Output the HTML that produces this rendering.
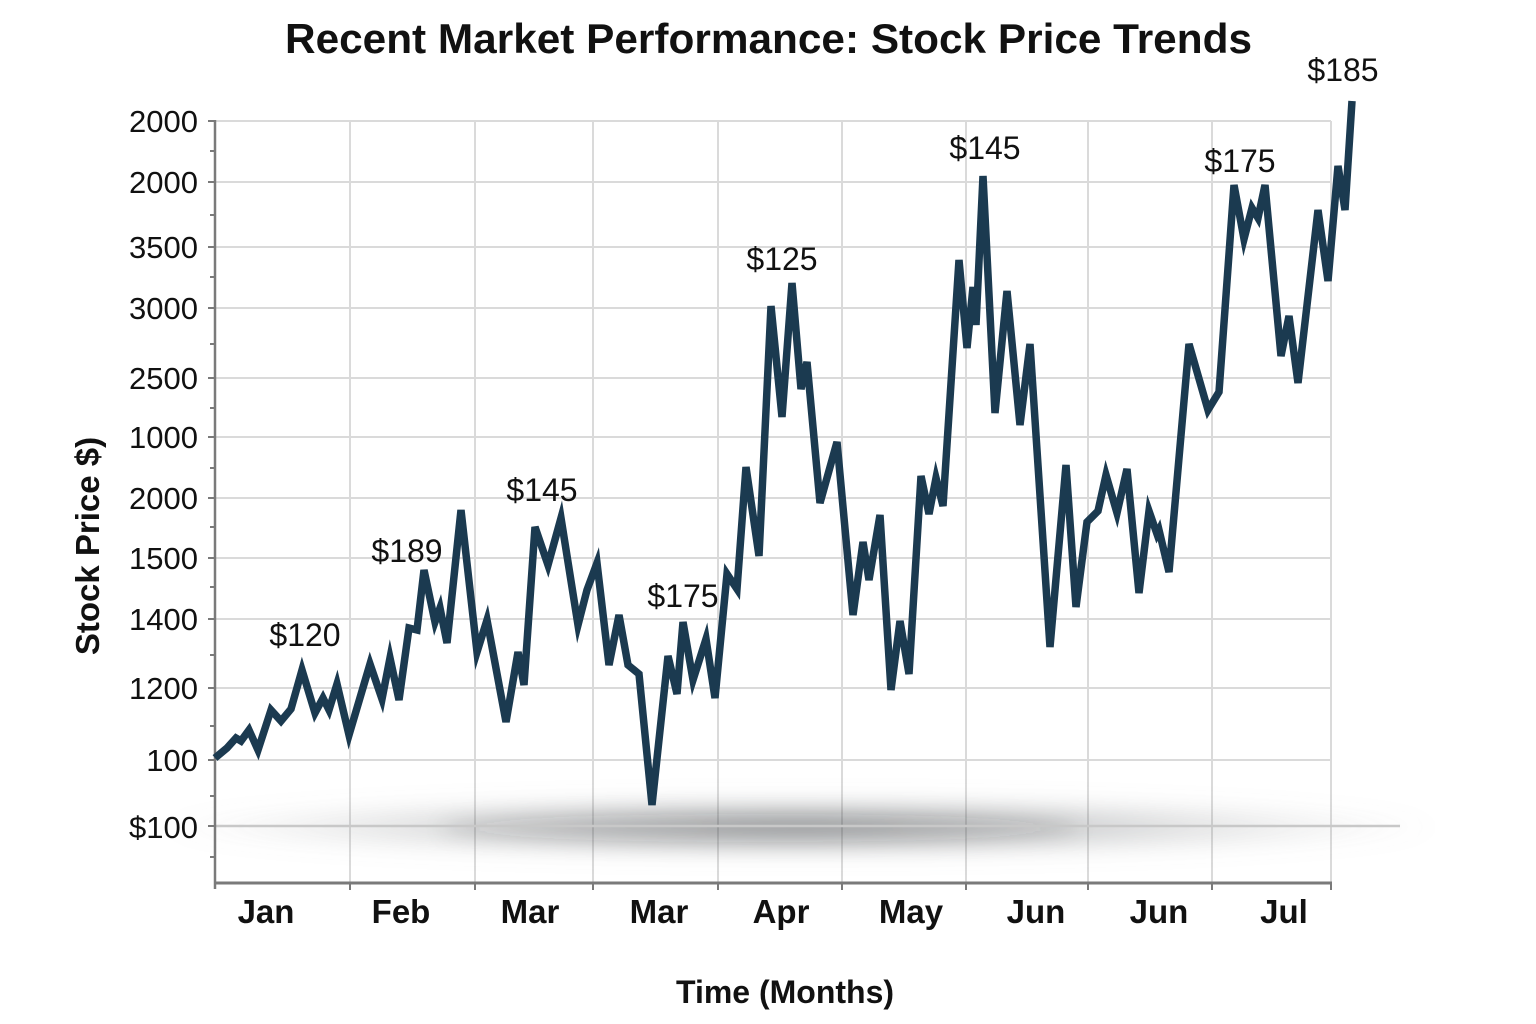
<!DOCTYPE html>
<html>
<head>
<meta charset="utf-8">
<style>
  html, body { margin: 0; padding: 0; background: #ffffff; }
  svg { display: block; }
  text { font-family: "Liberation Sans", Arial, Helvetica, sans-serif; fill: #111; }
</style>
</head>
<body>
<svg width="1536" height="1024" viewBox="0 0 1536 1024" xmlns="http://www.w3.org/2000/svg">
  <defs>
    <radialGradient id="shadowGrad" cx="0.5" cy="0.5" r="0.5">
      <stop offset="0" stop-color="#3a3f44" stop-opacity="0.5"/>
      <stop offset="0.5" stop-color="#6a6e72" stop-opacity="0.28"/>
      <stop offset="1" stop-color="#9a9a9a" stop-opacity="0"/>
    </radialGradient>
    <filter id="blur" x="-20%" y="-200%" width="140%" height="500%">
      <feGaussianBlur stdDeviation="10"/>
    </filter>
  </defs>

  <rect x="0" y="0" width="1536" height="1024" fill="#ffffff"/>

  <!-- Title -->
  <text x="285" y="53" font-size="42" font-weight="bold" textLength="967" lengthAdjust="spacingAndGlyphs">Recent Market Performance: Stock Price Trends</text>

  <!-- Horizontal grid -->
  <g stroke="#dadada" stroke-width="2">
    <line x1="215" y1="121" x2="1331" y2="121"/>
    <line x1="215" y1="182" x2="1331" y2="182"/>
    <line x1="215" y1="247" x2="1331" y2="247"/>
    <line x1="215" y1="308" x2="1331" y2="308"/>
    <line x1="215" y1="378" x2="1331" y2="378"/>
    <line x1="215" y1="437" x2="1331" y2="437"/>
    <line x1="215" y1="498" x2="1331" y2="498"/>
    <line x1="215" y1="558" x2="1331" y2="558"/>
    <line x1="215" y1="619" x2="1331" y2="619"/>
    <line x1="215" y1="688" x2="1331" y2="688"/>
    <line x1="215" y1="760" x2="1331" y2="760"/>
  </g>
  <!-- Vertical grid -->
  <g stroke="#dadada" stroke-width="2">
    <line x1="350" y1="121" x2="350" y2="883"/>
    <line x1="475" y1="121" x2="475" y2="883"/>
    <line x1="593" y1="121" x2="593" y2="883"/>
    <line x1="718" y1="121" x2="718" y2="883"/>
    <line x1="842" y1="121" x2="842" y2="883"/>
    <line x1="966" y1="121" x2="966" y2="883"/>
    <line x1="1088" y1="121" x2="1088" y2="883"/>
    <line x1="1212" y1="121" x2="1212" y2="883"/>
    <line x1="1331" y1="121" x2="1331" y2="883"/>
  </g>

  <!-- shadow band -->
  <ellipse cx="800" cy="827" rx="640" ry="32" fill="url(#shadowGrad)" filter="url(#blur)"/>
  <ellipse cx="760" cy="828" rx="320" ry="14" fill="#2f3438" fill-opacity="0.15" filter="url(#blur)"/>
  <line x1="215" y1="826" x2="1400" y2="826" stroke="#c8c8c8" stroke-width="2.5"/>

  <!-- Axes -->
  <line x1="215" y1="120" x2="215" y2="889" stroke="#7a7a7a" stroke-width="2.5"/>
  <line x1="214" y1="883" x2="1332" y2="883" stroke="#7a7a7a" stroke-width="3"/>

  <!-- y major ticks -->
  <g stroke="#7a7a7a" stroke-width="2">
    <line x1="208" y1="121" x2="215" y2="121"/>
    <line x1="208" y1="182" x2="215" y2="182"/>
    <line x1="208" y1="247" x2="215" y2="247"/>
    <line x1="208" y1="308" x2="215" y2="308"/>
    <line x1="208" y1="378" x2="215" y2="378"/>
    <line x1="208" y1="437" x2="215" y2="437"/>
    <line x1="208" y1="498" x2="215" y2="498"/>
    <line x1="208" y1="558" x2="215" y2="558"/>
    <line x1="208" y1="619" x2="215" y2="619"/>
    <line x1="208" y1="688" x2="215" y2="688"/>
    <line x1="208" y1="760" x2="215" y2="760"/>
    <line x1="208" y1="826" x2="215" y2="826"/>
  </g>
  <!-- y minor ticks -->
  <g stroke="#7a7a7a" stroke-width="2">
    <line x1="210" y1="151" x2="215" y2="151"/>
    <line x1="210" y1="215" x2="215" y2="215"/>
    <line x1="210" y1="277" x2="215" y2="277"/>
    <line x1="210" y1="344" x2="215" y2="344"/>
    <line x1="210" y1="408" x2="215" y2="408"/>
    <line x1="210" y1="468" x2="215" y2="468"/>
    <line x1="210" y1="527" x2="215" y2="527"/>
    <line x1="210" y1="587" x2="215" y2="587"/>
    <line x1="210" y1="655" x2="215" y2="655"/>
    <line x1="210" y1="726" x2="215" y2="726"/>
    <line x1="210" y1="796" x2="215" y2="796"/>
    <line x1="210" y1="857" x2="215" y2="857"/>
  </g>
  <!-- x ticks -->
  <g stroke="#7a7a7a" stroke-width="2">
    <line x1="350" y1="883" x2="350" y2="890"/>
    <line x1="475" y1="883" x2="475" y2="890"/>
    <line x1="593" y1="883" x2="593" y2="890"/>
    <line x1="718" y1="883" x2="718" y2="890"/>
    <line x1="842" y1="883" x2="842" y2="890"/>
    <line x1="966" y1="883" x2="966" y2="890"/>
    <line x1="1088" y1="883" x2="1088" y2="890"/>
    <line x1="1212" y1="883" x2="1212" y2="890"/>
    <line x1="1331" y1="883" x2="1331" y2="890"/>
  </g>

  <!-- y tick labels -->
  <g font-size="31" text-anchor="end">
    <text x="198" y="132">2000</text>
    <text x="198" y="193">2000</text>
    <text x="198" y="258">3500</text>
    <text x="198" y="319">3000</text>
    <text x="198" y="389">2500</text>
    <text x="198" y="448">1000</text>
    <text x="198" y="509">2000</text>
    <text x="198" y="569">1500</text>
    <text x="198" y="630">1400</text>
    <text x="198" y="699">1200</text>
    <text x="198" y="771">100</text>
    <text x="198" y="838">$100</text>
  </g>

  <!-- x tick labels -->
  <g font-size="33" font-weight="bold" text-anchor="middle">
    <text x="266" y="923">Jan</text>
    <text x="401" y="923">Feb</text>
    <text x="530" y="923">Mar</text>
    <text x="659" y="923">Mar</text>
    <text x="781" y="923">Apr</text>
    <text x="911" y="923">May</text>
    <text x="1036" y="923">Jun</text>
    <text x="1159" y="923">Jun</text>
    <text x="1284" y="923">Jul</text>
  </g>

  <!-- axis titles -->
  <text x="785" y="1003" font-size="32" font-weight="bold" text-anchor="middle">Time (Months)</text>
  <text transform="translate(99,546) rotate(-90)" font-size="33" font-weight="bold" text-anchor="middle">Stock Price $)</text>

  <!-- Data line -->
  <polyline fill="none" stroke="#1b3a50" stroke-width="7.5" stroke-linejoin="miter" stroke-miterlimit="5" stroke-linecap="butt"
    points="215,758 227,748 236,738 241,741 249,730 258,750 271,710 281,721 291,709 302,670 315,713 323,698 329,710 337,684 349,735 370,664 382,699 390,658 399,700 409,628 417,630 424,570 435,622 440,608 447,643 461,510 477,652 487,620 506,722 518,652 524,685 535,527 548,565 561,518 578,625 587,590 597,563 609,665 619,615 628,665 639,674 652,805 668,656 677,694 683,622 693,680 706,639 715,698 727,574 737,589 746,467 759,556 771,306 782,417 792,283 801,389 807,362 820,503 837,442 853,615 863,542 869,580 880,515 891,690 900,621 909,674 921,476 929,514 936,478 943,506 959,260 967,348 973,287 976,325 983,176 995,413 1007,291 1020,425 1030,344 1050,647 1066,465 1076,607 1087,522 1098,511 1106,475 1117,513 1127,469 1139,593 1149,511 1157,534 1159,530 1169,572 1189,344 1208,410 1219,392 1234,185 1244,239 1252,208 1258,218 1265,185 1281,356 1289,316 1298,383 1318,210 1328,281 1338,166 1345,210 1352,101"/>

  <!-- data labels -->
  <g font-size="32" text-anchor="middle">
    <text x="305" y="646">$120</text>
    <text x="407" y="562">$189</text>
    <text x="542" y="501">$145</text>
    <text x="683" y="607">$175</text>
    <text x="782" y="270">$125</text>
    <text x="985" y="159">$145</text>
    <text x="1240" y="172">$175</text>
    <text x="1343" y="81">$185</text>
  </g>
</svg>
</body>
</html>
